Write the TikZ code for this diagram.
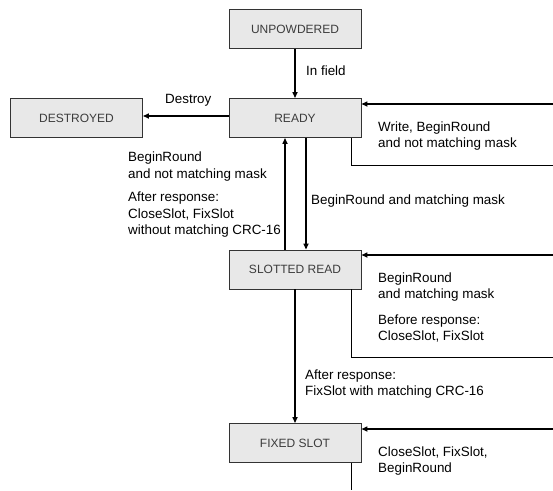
\documentclass[tikz,border=0pt]{standalone}
\usepackage{fontspec}
\setmainfont{Liberation Sans}
\usetikzlibrary{arrows.meta}
\definecolor{boxfill}{RGB}{232,232,232}
\definecolor{boxtext}{RGB}{60,60,60}
\tikzset{
  state/.style={draw=black!80, fill=boxfill, line width=0.9pt, minimum width=132pt,
    minimum height=39pt, inner sep=0pt, text=boxtext, font=\fontsize{12}{14}\selectfont},
  arr/.style={line width=1.7pt, -{Triangle[length=6pt,width=5pt]}},
  loopline/.style={line width=0.9pt},
  lbl/.style={anchor=west, inner sep=0pt, align=left, font=\fontsize{13.4}{16.5}\selectfont}
}

\begin{document}
\begin{tikzpicture}[x=1pt,y=-1pt]
            \useasboundingbox (0,0) rectangle (553,490);
            % states
            \node[state] (unpow) at (295,29) {UNPOWDERED};
            \node[state] (ready) at (295,118) {READY};
            \node[state] (destr) at (76.5,118) {DESTROYED};
            \node[state] (slot) at (295,269.5) {SLOTTED READ};
            \node[state] (fixed) at (295,443) {FIXED SLOT};
            % loop ends at the right edge
            \coordinate (rdyin) at (553,104);
            \coordinate (rdyout) at (553,165);
            \coordinate (slotin) at (553,255);
            \coordinate (slotout) at (553,357);
            \coordinate (fixin) at (553,429);
            \coordinate (fixout) at (351,490);
            % transitions
            \draw[arr] (unpow) -- (ready);
            \draw[arr] (ready.west |- 0,116) -- (destr.east |- 0,116);
            \draw[arr] ([xshift=-10pt]slot.north) -- ([xshift=-10pt]ready.south);
            \draw[arr] ([xshift=11pt]ready.south) -- ([xshift=11pt]slot.north);
            \draw[arr] (slot) -- (fixed);
            \draw[loopline] ([xshift=56pt]ready.south) |- (rdyout);
            \draw[arr] (rdyin) -- (rdyin -| ready.east);
            \draw[loopline] ([xshift=56pt]slot.south) |- (slotout);
            \draw[arr] (slotin) -- (slotin -| slot.east);
            \draw[loopline] ([xshift=56pt]fixed.south) -- (fixout);
            \draw[arr] (fixin) -- (fixin -| fixed.east);
            % labels
            \node[lbl] (infield) at (306,71) {In field};
            \node[lbl] (destroy) at (165,100) {Destroy};
            \node[lbl] (rdyloop) at (378,136) {Write, BeginRound\\and not matching mask};
            \node[lbl] (back1) at (128,166.5) {BeginRound\\and not matching mask};
            \node[lbl] (back2) at (128,215) {After response:\\CloseSlot, FixSlot\\without matching CRC-16};
            \node[lbl] (tosl) at (311,201) {BeginRound and matching mask};
            \node[lbl] (slloop1) at (378,287) {BeginRound\\and matching mask};
            \node[lbl] (slloop2) at (378,328.5) {Before response:\\CloseSlot, FixSlot};
            \node[lbl] (tofix) at (305,384) {After response:\\FixSlot with matching CRC-16};
            \node[lbl] (fixloop) at (378,461) {CloseSlot, FixSlot,\\BeginRound};
        \end{tikzpicture}
\end{document}
